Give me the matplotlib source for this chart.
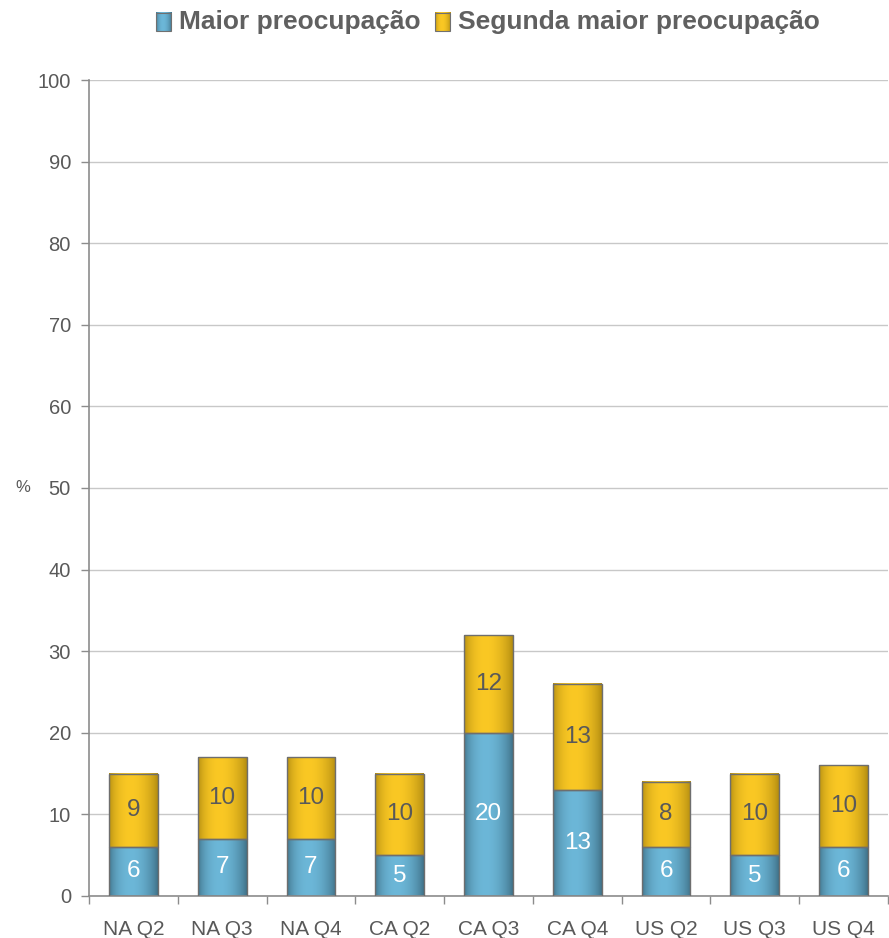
import numpy as np
import matplotlib
matplotlib.use("Agg")
import matplotlib.pyplot as plt
from matplotlib.colors import to_rgb
from matplotlib.legend_handler import HandlerBase
from matplotlib.patches import Rectangle
from matplotlib.image import BboxImage
from matplotlib.transforms import Bbox, TransformedBbox

categories = ["NA Q2", "NA Q3", "NA Q4", "CA Q2", "CA Q3", "CA Q4", "US Q2", "US Q3", "US Q4"]
maior = [6, 7, 7, 5, 20, 13, 6, 5, 6]
segunda = [9, 10, 10, 10, 12, 13, 8, 10, 10]
series_names = ["Maior preocupação", "Segunda maior preocupação"]

plt.rcParams["font.family"] = ["Liberation Sans", "DejaVu Sans"]

GRAY = "#595959"
BLUE_DARK, BLUE_LIGHT = "#3e6f86", "#6cb7d8"
GOLD_DARK, GOLD_LIGHT = "#b08a10", "#fac824"


def gradient(dark, light, n=64):
    """Horizontal cylinder-like shading: dark edges, light centre."""
    t = np.linspace(0, 1, n)
    w = np.sin(np.pi * t ** 0.85) ** 0.7
    d, l = np.array(to_rgb(dark)), np.array(to_rgb(light))
    row = d[None, :] * (1 - w[:, None]) + l[None, :] * w[:, None]
    return row[None, :, :]


def shade_bars(ax, bars, dark, light):
    img = gradient(dark, light)
    for b in bars:
        x0, y0 = b.get_x(), b.get_y()
        ax.imshow(img, extent=(x0, x0 + b.get_width(), y0, y0 + b.get_height()),
                  aspect="auto", zorder=2, interpolation="bilinear")


class GradHandler(HandlerBase):
    def __init__(self, dark, light):
        super().__init__()
        self.dark, self.light = dark, light

    def create_artists(self, legend, orig, xd, yd, w, h, fs, trans):
        y0 = yd - 0.15 * h
        bb = TransformedBbox(Bbox.from_bounds(xd, y0, w, h), trans)
        im = BboxImage(bb, interpolation="bilinear")
        im.set_data(gradient(self.dark, self.light))
        r = Rectangle((xd, y0), w, h, fc="none", ec="#707070", lw=0.8, transform=trans)
        return [im, r]


fig = plt.figure(figsize=(8.89, 9.38), dpi=100)
ax = fig.add_axes([0.1001, 0.0448, 0.8988, 0.8699])

x = np.arange(len(categories))
width = 0.55
b1 = ax.bar(x, maior, width, facecolor="none", edgecolor="#6e6e6e", lw=1.0, zorder=3)
b2 = ax.bar(x, segunda, width, bottom=maior, facecolor="none", edgecolor="#6e6e6e", lw=1.0, zorder=3)
shade_bars(ax, b1, BLUE_DARK, BLUE_LIGHT)
shade_bars(ax, b2, GOLD_DARK, GOLD_LIGHT)

for i in range(len(categories)):
    ax.text(x[i], maior[i] / 2, str(maior[i]), ha="center", va="center",
            color="white", fontsize=17.5, zorder=4)
    ax.text(x[i], maior[i] + segunda[i] / 2, str(segunda[i]), ha="center", va="center",
            color=GRAY, fontsize=17.5, zorder=4)

ax.set_xlim(-0.5, len(categories) - 0.5)
ax.set_ylim(0, 100)
ax.set_yticks(range(0, 101, 10))
ax.yaxis.grid(True, color="#c8c8c8", lw=1.0, zorder=0)
ax.set_axisbelow(True)

ax.set_xticks(x)
ax.set_xticklabels(categories)
ax.set_xticks(np.arange(-0.5, len(categories), 1.0), minor=True)
ax.tick_params(axis="x", which="major", length=0, pad=17, labelsize=15, labelcolor=GRAY)
ax.tick_params(axis="x", which="minor", length=6, width=1, color="#8c8c8c", direction="out")
ax.tick_params(axis="y", length=6, width=1, color="#8c8c8c", labelsize=14.5, labelcolor=GRAY, pad=7)

for side in ("top", "right"):
    ax.spines[side].set_visible(False)
for side in ("left", "bottom"):
    ax.spines[side].set_color("#8c8c8c")
    ax.spines[side].set_linewidth(1.2)

ax.set_ylabel("%", rotation=0, fontsize=12, color=GRAY, va="center", ha="center")
ax.yaxis.set_label_coords(-0.083, 0.5)

h1, h2 = object(), object()
leg = fig.legend([h1, h2], series_names, loc="center", bbox_to_anchor=(0.549, 0.977),
                 ncol=2, frameon=False, handlelength=0.57, handleheight=0.7, handletextpad=0.3,
                 columnspacing=0.55, borderpad=0,
                 handler_map={h1: GradHandler(BLUE_DARK, BLUE_LIGHT), h2: GradHandler(GOLD_DARK, GOLD_LIGHT)},
                 prop={"weight": "bold", "size": 19})
for t in leg.get_texts():
    t.set_color("#606060")

fig.savefig("out.png", dpi=100)
